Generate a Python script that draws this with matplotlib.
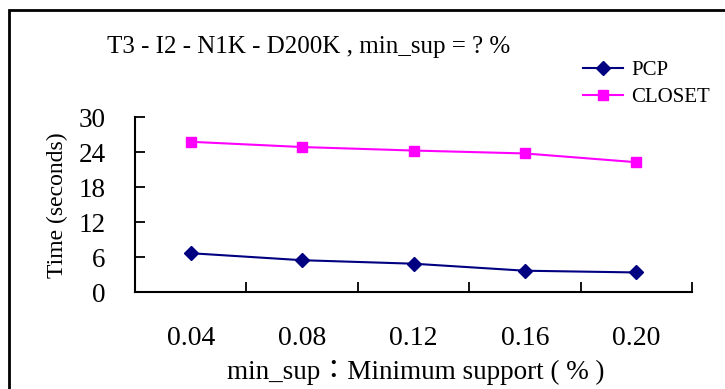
import matplotlib.pyplot as plt
from matplotlib.patches import Rectangle

# min_sup values (%) and run times (seconds)
categories = ['0.04', '0.08', '0.12', '0.16', '0.20']
pcp = [6.7, 5.5, 4.9, 3.7, 3.4]
closet = [25.8, 24.9, 24.3, 23.8, 22.3]
yticks = [0, 6, 12, 18, 24, 30]

serif = ['Liberation Serif', 'Noto Sans CJK TC']
plt.rcParams['font.family'] = serif

fig = plt.figure(figsize=(7.25, 3.89), dpi=100)
ax = fig.add_axes([0.1862, 0.2486, 0.7683, 0.4499])

# outer frame of the chart area
fig.patches.append(Rectangle((9 / 725, -0.1), 2, 0.1 + 379 / 389, transform=fig.transFigure,
                             fill=False, lw=2, ec='black'))

xpos = [i + 0.5 for i in range(len(categories))]
ax.plot(xpos, pcp, color='#000080', marker='D', markersize=7, lw=1.5, label='PCP')
ax.plot(xpos, closet, color='#FF00FF', marker='s', markersize=7, lw=1.5, label='CLOSET')

ax.set_xlim(0, len(categories))
ax.set_ylim(0, 30)
ax.set_yticks(yticks)
ax.set_xticks(range(len(categories) + 1))
ax.set_xticklabels([])
ax.set_xticks(xpos, minor=True)
ax.set_xticklabels(categories, minor=True, fontsize=20)

ax.tick_params(axis='x', which='major', direction='in', length=7, width=1.3)
ax.tick_params(axis='x', which='minor', length=0, pad=24)
ax.tick_params(axis='y', direction='in', length=7, width=1.3, labelsize=19.5, pad=21)

for s in ['top', 'right']:
    ax.spines[s].set_visible(False)
for s in ['left', 'bottom']:
    ax.spines[s].set_linewidth(1.5)

ax.set_ylabel('Time (seconds)', fontsize=17, labelpad=8)
fig.text(0.5 * (225 + 607) / 725, 1 - 372 / 389, 'min_sup：Minimum support ( % )',
         ha='center', va='center', fontsize=19.5)
fig.text(107 / 725, 1 - 47 / 389, 'T3 - I2 - N1K - D200K , min_sup = ? %',
         ha='left', va='center', fontsize=18)

ax.legend(loc='upper left', bbox_to_anchor=(575 / 725, 1 - 52 / 389), bbox_transform=fig.transFigure,
          frameon=False, fontsize=15, handlelength=1.9, handletextpad=0.4, labelspacing=0.35,
          borderaxespad=0)

fig.savefig('out.png', dpi=100)
